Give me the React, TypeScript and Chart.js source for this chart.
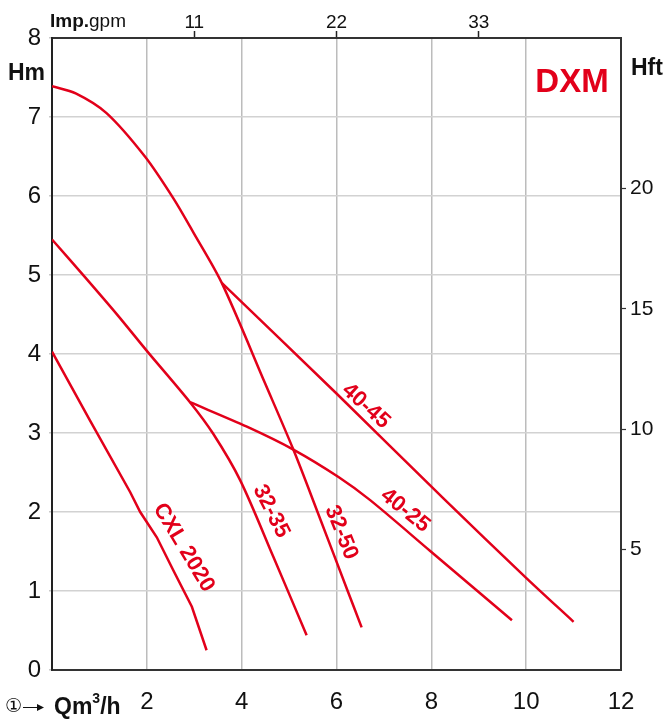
import React, { useEffect, useRef } from 'react';
import { Chart, registerables } from 'chart.js';

Chart.register(...registerables);

// ---- data (Q in m³/h, H in m) ----
const q3250 = [0, 0.5, 1.15, 1.96, 2.56, 2.98, 3.58, 4.5, 5.09, 5.6, 6.23, 6.53];
const h3250 = [7.39, 7.3, 7.05, 6.5, 5.97, 5.54, 4.9, 3.62, 2.79, 2.0, 1.01, 0.54];

const q4045 = [3.58, 6.0, 8.26, 10.01, 11.0];
const h4045 = [4.9, 3.5, 2.17, 1.16, 0.61];

const q3235 = [0, 0.7, 1.4, 2.0, 2.91, 3.4, 3.97, 4.67, 5.37];
const h3235 = [5.45, 4.97, 4.48, 4.04, 3.39, 2.99, 2.4, 1.43, 0.44];

const q4025 = [2.91, 4.11, 5.09, 6.05, 6.71, 7.97, 9.7];
const h4025 = [3.39, 3.08, 2.79, 2.44, 2.15, 1.51, 0.63];

const qCxl = [0, 0.8, 1.65, 1.86, 2.21, 2.56, 2.95, 3.26];
const hCxl = [4.03, 3.16, 2.25, 2.0, 1.68, 1.26, 0.8, 0.25];

const flowTicks = [0, 2, 4, 6, 8, 10, 12];
const headTicks = [0, 1, 2, 3, 4, 5, 6, 7, 8];
const gpmTicks = [11, 22, 33];
const ftTicks = [5, 10, 15, 20];

const curveLabels = ['40-45', '40-25', '32-50', '32-35', 'CXL 2020'];
const labelQ = [6.62, 7.45, 6.1, 4.62, 2.78];
const labelH = [3.34, 2.02, 1.74, 2.01, 1.55];
const labelAngle = [42, 39, 68, 63, 59];

const GPM_PER_M3H = 3.666;
const FT_PER_M = 3.28084;

const RED = '#e2001a';
const FONT = '"Liberation Sans", Arial, Helvetica, sans-serif';

const pts = (q: number[], h: number[]) => q.map((v, i) => ({ x: v, y: h[i] }));

const textPlugin = {
  id: 'texts',
  afterDraw(chart: any) {
    const ctx = chart.ctx as CanvasRenderingContext2D;
    const xS = chart.scales.x;
    const yS = chart.scales.y;
    ctx.save();
    // curve labels
    ctx.fillStyle = RED;
    ctx.font = `bold 22px ${FONT}`;
    ctx.textAlign = 'center';
    ctx.textBaseline = 'middle';
    curveLabels.forEach((t, i) => {
      const px = xS.getPixelForValue(labelQ[i]);
      const py = yS.getPixelForValue(labelH[i]);
      ctx.save();
      ctx.translate(px, py);
      ctx.rotate((labelAngle[i] * Math.PI) / 180);
      ctx.fillText(t, 0, 0);
      ctx.restore();
    });

    // DXM
    ctx.font = `bold 33px ${FONT}`;
    ctx.textAlign = 'center';
    ctx.textBaseline = 'alphabetic';
    ctx.fillText('DXM', 572, 92);

    // axis titles
    ctx.fillStyle = '#111';
    ctx.textAlign = 'left';
    ctx.font = `bold 23px ${FONT}`;
    ctx.fillText('Hm', 8, 80);
    ctx.fillText('Hft', 631, 75);

    ctx.font = `bold 19px ${FONT}`;
    ctx.fillText('Imp.', 50, 27);
    const w = ctx.measureText('Imp.').width;
    ctx.font = `19px ${FONT}`;
    ctx.fillText('gpm', 50 + w, 27);

    // bottom-left: ① → Qm³/h
    ctx.font = `19px "DejaVu Sans", "Noto Sans CJK JP", sans-serif`;
    ctx.textBaseline = 'middle';
    ctx.fillText('①', 5, 707);
    ctx.strokeStyle = '#111';
    ctx.lineWidth = 1;
    ctx.beginPath();
    ctx.moveTo(23, 707.5);
    ctx.lineTo(38, 707.5);
    ctx.stroke();
    ctx.beginPath();
    ctx.moveTo(37, 704);
    ctx.lineTo(44, 707.5);
    ctx.lineTo(37, 711);
    ctx.closePath();
    ctx.fill();

    ctx.textBaseline = 'alphabetic';
    let x = 54;
    ctx.font = `bold 23px ${FONT}`;
    ctx.fillText('Qm', x, 714);
    x += ctx.measureText('Qm').width;
    ctx.font = `bold 14px ${FONT}`;
    ctx.fillText('3', x, 703);
    x += ctx.measureText('3').width;
    ctx.font = `bold 23px ${FONT}`;
    ctx.fillText('/h', x, 714);

    ctx.restore();
  },
};

export default function App() {
  const ref = useRef<HTMLCanvasElement | null>(null);

  useEffect(() => {
    if (!ref.current) return;
    const lineDs = (label: string, q: number[], h: number[], smooth = true) => ({
      label,
      data: pts(q, h),
      borderColor: RED,
      backgroundColor: RED,
      borderWidth: 2.5,
      pointRadius: 0,
      fill: false,
      tension: smooth ? 0.3 : 0,
      xAxisID: 'x',
      yAxisID: 'y',
    });

    const hideEdge = (lo: number, hi: number, col: string) => (c: any) =>
      c.tick && (c.tick.value === lo || c.tick.value === hi) ? 'rgba(0,0,0,0)' : col;

    const chart = new Chart(ref.current, {
      type: 'line',
      data: {
        datasets: [
          lineDs('32-50', q3250, h3250),
          lineDs('40-45', q4045, h4045),
          lineDs('32-35', q3235, h3235),
          lineDs('40-25', q4025, h4025),
          lineDs('CXL 2020', qCxl, hCxl, false),
        ] as any,
      },
      options: {
        animation: false,
        responsive: false,
        devicePixelRatio: 1,
        layout: { padding: 0 },
        plugins: { legend: { display: false }, tooltip: { enabled: false } },
        scales: {
          x: {
            type: 'linear',
            position: 'bottom',
            min: 0,
            max: 12,
            afterBuildTicks: (s: any) => {
              s.ticks = flowTicks.map((v) => ({ value: v }));
            },
            afterFit: (s: any) => {
              s.height = 52;
            },
            ticks: {
              callback: (v: any) => (v === 0 ? '' : String(v)),
              font: { family: FONT, size: 24 },
              color: '#111',
              padding: 18,
              maxRotation: 0,
              autoSkip: false,
            },
            grid: {
              color: hideEdge(0, 12, '#bcbcbc'),
              lineWidth: 1.5,
              drawTicks: false,
            },
            border: { display: true, color: '#333', width: 2 },
          },
          x2: {
            type: 'linear',
            position: 'top',
            min: 0,
            max: 12 * GPM_PER_M3H,
            afterBuildTicks: (s: any) => {
              s.ticks = gpmTicks.map((v) => ({ value: v }));
            },
            afterFit: (s: any) => {
              s.height = 38;
            },
            ticks: {
              font: { family: FONT, size: 19, lineHeight: 1 },
              color: '#111',
              padding: -1,
              maxRotation: 0,
              autoSkip: false,
            },
            grid: {
              drawOnChartArea: false,
              drawTicks: true,
              tickLength: 7,
              tickColor: '#222',
              tickWidth: 1.5,
            },
            border: { display: true, color: '#333', width: 2 },
          },
          y: {
            type: 'linear',
            position: 'left',
            min: 0,
            max: 8,
            afterBuildTicks: (s: any) => {
              s.ticks = headTicks.map((v) => ({ value: v }));
            },
            afterFit: (s: any) => {
              s.width = 52;
            },
            ticks: {
              font: { family: FONT, size: 24 },
              color: '#111',
              padding: 8,
              autoSkip: false,
            },
            grid: {
              color: hideEdge(0, 8, '#d2d2d2'),
              lineWidth: 1.5,
              tickLength: 3,
              tickColor: '#c8c8c8',
            },
            border: { display: true, color: '#222', width: 2 },
          },
          y2: {
            type: 'linear',
            position: 'right',
            min: 0,
            max: 8 * FT_PER_M,
            afterBuildTicks: (s: any) => {
              s.ticks = ftTicks.map((v) => ({ value: v }));
            },
            afterFit: (s: any) => {
              s.width = 44;
            },
            ticks: {
              font: { family: FONT, size: 21 },
              color: '#111',
              padding: 4,
              autoSkip: false,
            },
            grid: {
              drawOnChartArea: false,
              tickLength: 5,
              tickColor: '#333',
              tickWidth: 1.2,
            },
            border: { display: true, color: '#333', width: 2 },
          },
        },
      } as any,
      plugins: [textPlugin],
    });
    return () => chart.destroy();
  }, []);

  return (
    <div style={{ position: 'fixed', left: 0, top: 0, width: 665, height: 722, background: '#fff' }}>
      <canvas ref={ref} width={665} height={722} style={{ width: 665, height: 722, display: 'block' }} />
    </div>
  );
}
